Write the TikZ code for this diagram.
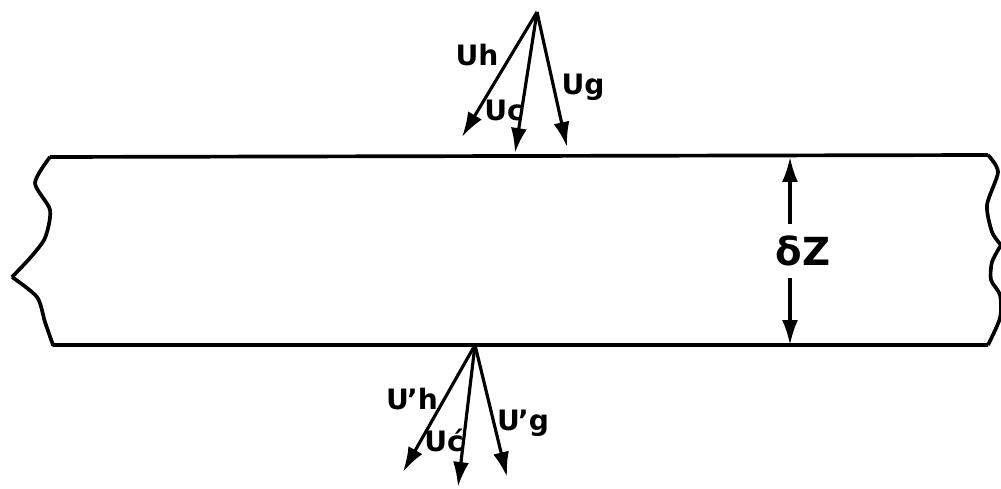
\documentclass[tikz,border=0pt]{standalone}
\usepackage{fontspec}
\setmainfont{DejaVu Sans}
\usepackage{tikz}
\usetikzlibrary{arrows.meta,positioning,calc}

\begin{document}
\begin{tikzpicture}[x=0.02cm,y=-0.02cm,
  slab/.style={line width=2.1pt,line join=round},
  vec/.style={line width=1.8pt,-{Latex[length=5mm,width=3.2mm]}},
  lbl/.style={font=\fontsize{16}{16}\selectfont\bfseries,inner sep=0pt},
  every node/.style={align=center}]
\useasboundingbox (0,0) rectangle (1001,489);
% the slab of thickness dZ
\draw[slab] (988,155) -- (50,157)
  plot[smooth,tension=0.45] coordinates {(50,157) (35,183) (50,210) (45,238) (30,258) (12,277)}
  plot[smooth,tension=0.45] coordinates {(12,277) (37,297) (45,322) (53,345)}
  -- (988,345)
  plot[smooth,tension=0.45] coordinates {(988,345) (1000,318) (1000,295) (991,280) (992,262) (1001,245)}
  plot[smooth,tension=0.45] coordinates {(1001,245) (992,232) (987,205) (998,172) (988,155)};
% incoming vectors at the top face
\coordinate (o) at (537,12);
\coordinate (th) at (462,137);
\coordinate (tc) at (515,153);
\coordinate (tg) at (567,147);
\draw[vec] (o) -- (th);
\draw[vec] (o) -- (tc);
\draw[vec] (o) -- (tg);
\node[lbl] (uh) at (477,55) {Uh};
\node[lbl] (uc) at (504,110) {Uc};
\node[lbl] (ug) at (583,87) {Ug};
% outgoing vectors at the bottom face
\coordinate (o2) at (475,345);
\coordinate (bh) at (403,472);
\coordinate (bc) at (458,487);
\coordinate (bg) at (507,477);
\draw[vec] (o2) -- (bh);
\draw[vec] (o2) -- (bc);
\draw[vec] (o2) -- (bg);
\node[lbl] (uh2) at (412,399) {U\kern-1pt'h};
\node[lbl] (uc2) at (444,440) {U\'c};
\node[lbl] (ug2) at (523,423) {U\kern-1pt'g};
% thickness
\coordinate (zt) at (790,157);
\coordinate (zb) at (790,345);
\node[font=\fontsize{22}{22}\selectfont\bfseries,inner sep=0pt] (dz) at (803,251) {δZ};
\draw[vec] ($(dz.north -| zt)+(0,-12)$) -- (zt);
\draw[vec] ($(dz.south -| zb)+(0,12)$) -- (zb);
\end{tikzpicture}
\end{document}
